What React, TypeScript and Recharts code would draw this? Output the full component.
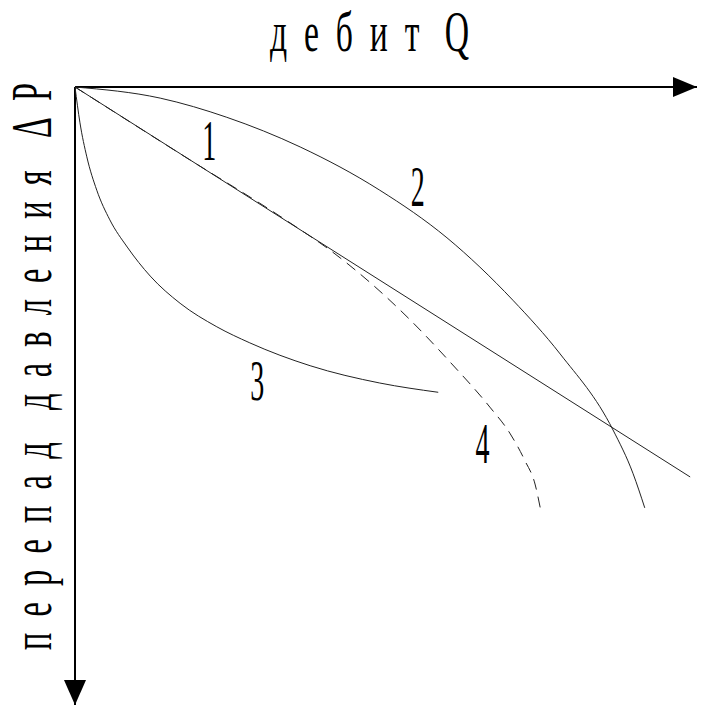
import { useLayoutEffect, useRef, useState } from 'react';
import { ComposedChart, Line, XAxis, YAxis, ReferenceDot, ReferenceLine } from 'recharts';

// Q axis 0..100, ΔP axis 0..100 (pointing down)
const line1 = [
  { q: 0, dp: 0 },
  { q: 98.9, dp: 63.1 },
];

const line2 = [
  { q: 0, dp: 0 },
  { q: 13.7, dp: 1.8 },
  { q: 24.4, dp: 4.9 },
  { q: 36.2, dp: 9.7 },
  { q: 49.0, dp: 16.7 },
  { q: 59.8, dp: 24.4 },
  { q: 70.4, dp: 34.5 },
  { q: 78.0, dp: 43.2 },
  { q: 86.5, dp: 55.5 },
  { q: 89.7, dp: 62.5 },
  { q: 91.6, dp: 68.1 },
];

const line3 = [
  { q: 0, dp: 0 },
  { q: 0.8, dp: 5.8 },
  { q: 1.9, dp: 11.3 },
  { q: 3.5, dp: 16.7 },
  { q: 5.6, dp: 21.5 },
  { q: 8.4, dp: 25.9 },
  { q: 12.1, dp: 30.6 },
  { q: 16.9, dp: 35.0 },
  { q: 22.8, dp: 38.8 },
  { q: 28.1, dp: 41.4 },
  { q: 37.8, dp: 45.1 },
  { q: 49.0, dp: 47.9 },
  { q: 58.4, dp: 49.4 },
];

const line4 = [
  { q: 0, dp: 0 },
  { q: 16.9, dp: 10.8 },
  { q: 34.6, dp: 22.0 },
  { q: 41.0, dp: 26.4 },
  { q: 47.4, dp: 31.6 },
  { q: 53.9, dp: 37.7 },
  { q: 60.3, dp: 44.5 },
  { q: 66.7, dp: 51.8 },
  { q: 69.9, dp: 56.0 },
  { q: 72.3, dp: 60.4 },
  { q: 74.0, dp: 64.4 },
  { q: 74.8, dp: 68.1 },
];

const curveLabels = [
  { name: '1', q: 21.6, dp: 11.8 },
  { name: '2', q: 55.1, dp: 19.3 },
  { name: '3', q: 29.3, dp: 50.6 },
  { name: '4', q: 65.5, dp: 60.8 },
];

const nb = '\u00a0';
const xTitle = ['д', 'е', 'б', 'и', 'т'].join(nb + nb) + nb + nb + nb + 'Q';
const yTitle =
  ['п', 'е', 'р', 'е', 'п', 'а', 'д'].join(nb + nb) +
  nb.repeat(4) +
  ['д', 'а', 'в', 'л', 'е', 'н', 'и', 'я'].join(nb + nb) +
  nb.repeat(4) +
  'Δ' + nb + nb + 'P';

const FONT = '"Liberation Serif", "DejaVu Serif", serif';

const XTitle = (props: any) => {
  const { viewBox } = props;
  return (
    <text
      x={viewBox.x + 195}
      y={viewBox.y - 36}
      fontFamily={FONT}
      fontSize={56}
      fill='#000'
      textLength={199}
      lengthAdjust='spacingAndGlyphs'
    >
      {xTitle}
    </text>
  );
};

// rotated axis title, squeezed along its length with a transform
const YTitle = (props: any) => {
  const { viewBox } = props;
  const ref = useRef<SVGTextElement>(null);
  const [sx, setSx] = useState(0.58);
  useLayoutEffect(() => {
    const len = ref.current ? ref.current.getComputedTextLength() : 0;
    if (len > 0) setSx(567 / len);
  }, []);
  if (!viewBox) return null;
  const x = viewBox.x - 24;
  const y = viewBox.y + 563;
  return (
    <g transform={`translate(${x} ${y}) rotate(-90) scale(${sx} 1)`}>
      <text ref={ref} x={0} y={0} fontFamily={FONT} fontSize={56} fill='#000'>
        {yTitle}
      </text>
    </g>
  );
};

const arrowRight = ({ cx, cy }: any) => (
  <polygon points={`${cx},${cy} ${cx - 24},${cy - 10} ${cx - 24},${cy + 10}`} fill='#000' />
);

const arrowDown = ({ cx, cy }: any) => (
  <polygon points={`${cx},${cy} ${cx - 11},${cy - 25} ${cx + 11},${cy - 25}`} fill='#000' />
);

const digit = (name: string) => ({ cx, cy }: any) => (
  <text
    x={cx}
    y={cy}
    textAnchor='middle'
    fontFamily={FONT}
    fontSize={56}
    fill='#000'
    textLength={14}
    lengthAdjust='spacingAndGlyphs'
  >
    {name}
  </text>
);

export default function App() {
  return (
    <div style={{ position: 'absolute', left: 0, top: 0, background: '#fff' }}>
      <ComposedChart width={701} height={713} margin={{ top: 87, right: 4, bottom: 8, left: 75 }}>
        <XAxis type='number' dataKey='q' domain={[0, 100]} hide />
        <YAxis type='number' dataKey='dp' reversed domain={[0, 100]} hide />
        <ReferenceLine y={0} stroke='#000' strokeWidth={2} label={{ content: XTitle }} />
        <ReferenceLine x={0} stroke='#000' strokeWidth={2} label={<YTitle />} />
        <Line data={line1} dataKey='dp' type='linear' stroke='#222' strokeWidth={1} dot={false} isAnimationActive={false} />
        <Line data={line2} dataKey='dp' type='monotone' stroke='#222' strokeWidth={1} dot={false} isAnimationActive={false} />
        <Line data={line3} dataKey='dp' type='monotone' stroke='#222' strokeWidth={1} dot={false} isAnimationActive={false} />
        <Line
          data={line4}
          dataKey='dp'
          type='monotone'
          stroke='#222'
          strokeWidth={1}
          strokeDasharray='11 7'
          dot={false}
          isAnimationActive={false}
        />
        <ReferenceDot x={100} y={0} r={0} shape={arrowRight} />
        <ReferenceDot x={0} y={100} r={0} shape={arrowDown} />
        {curveLabels.map((l) => (
          <ReferenceDot key={l.name} x={l.q} y={l.dp} r={0} shape={digit(l.name)} />
        ))}
      </ComposedChart>
    </div>
  );
}
